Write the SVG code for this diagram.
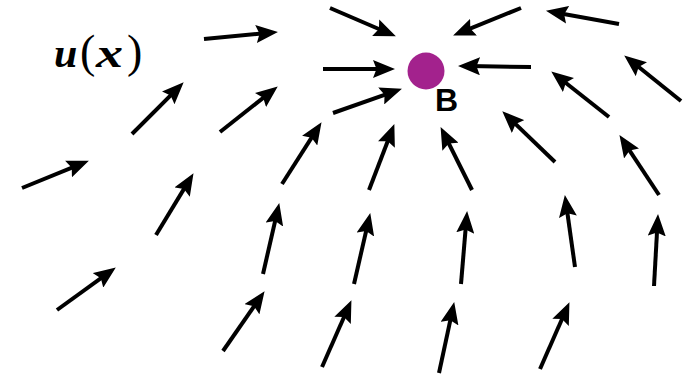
<svg xmlns="http://www.w3.org/2000/svg" width="697" height="377" viewBox="0 0 697 377">
<style>
.ar{stroke:#000;stroke-width:4;fill:none;marker-end:url(#ah)}
.lbl{font-family:"Liberation Sans",Arial,sans-serif;font-weight:bold;font-size:32px;fill:#000}
.math{font-family:"Liberation Serif","Times New Roman",serif;font-size:42px;fill:#000}
.par{font-size:46px;font-weight:normal;font-style:normal}
.var{font-weight:bold;font-style:italic}
</style>
<defs>
<marker id="ah" markerUnits="userSpaceOnUse" markerWidth="22" markerHeight="18" viewBox="0 0 22 18" refX="11" refY="9" orient="auto">
<path d="M0,0 L22,9 L0,18 L3.5,9 z" fill="#000"/>
</marker>
</defs>
<rect width="697" height="377" fill="#fff"/>
<g id="label-u">
<text class="math" y="67"><tspan class="var" x="54">u</tspan><tspan class="par" x="80">(</tspan><tspan class="var" x="96" textLength="27" lengthAdjust="spacingAndGlyphs">x</tspan><tspan class="par" x="127">)</tspan></text>
</g>
<g id="connectors">
<line class="ar" x1="204" y1="39" x2="267" y2="33"/>
<line class="ar" x1="330" y1="8" x2="385.8" y2="32"/>
<line class="ar" x1="521" y1="8" x2="463.3" y2="31.3"/>
<line class="ar" x1="619" y1="24" x2="556.8" y2="12.8"/>
<line class="ar" x1="323" y1="69" x2="384" y2="69"/>
<line class="ar" x1="531" y1="67" x2="469" y2="66.1"/>
<line class="ar" x1="681" y1="101" x2="632.8" y2="62.3"/>
<line class="ar" x1="132" y1="134" x2="175.9" y2="90.1"/>
<line class="ar" x1="220" y1="132" x2="269.1" y2="93.2"/>
<line class="ar" x1="333" y1="113" x2="391.6" y2="92.3"/>
<line class="ar" x1="609" y1="117" x2="559.9" y2="78.2"/>
<line class="ar" x1="555" y1="162" x2="510.2" y2="118.9"/>
<line class="ar" x1="282" y1="184" x2="315.6" y2="131.4"/>
<line class="ar" x1="369" y1="190" x2="390.4" y2="134.3"/>
<line class="ar" x1="472" y1="190" x2="445.5" y2="136.9"/>
<line class="ar" x1="659" y1="195" x2="625.5" y2="144.3"/>
<line class="ar" x1="22" y1="188" x2="78.7" y2="164.8"/>
<line class="ar" x1="156" y1="235" x2="187.8" y2="182.6"/>
<line class="ar" x1="263" y1="274" x2="276.8" y2="213.8"/>
<line class="ar" x1="354" y1="284" x2="367.8" y2="223.8"/>
<line class="ar" x1="461" y1="284" x2="466.2" y2="222"/>
<line class="ar" x1="575" y1="267" x2="566.4" y2="205.9"/>
<line class="ar" x1="654" y1="286" x2="657.4" y2="225"/>
<line class="ar" x1="57" y1="310" x2="106.9" y2="273.9"/>
<line class="ar" x1="223" y1="351" x2="258.3" y2="300.2"/>
<line class="ar" x1="322" y1="367" x2="347" y2="310.2"/>
<line class="ar" x1="439" y1="373" x2="451.9" y2="312.8"/>
<line class="ar" x1="540" y1="369" x2="565" y2="312.2"/>
</g>
<g id="node-B">
<circle cx="426" cy="71" r="18.5" fill="#a3228d"/>
<text class="lbl" x="435" y="111">B</text>
</g>
</svg>
